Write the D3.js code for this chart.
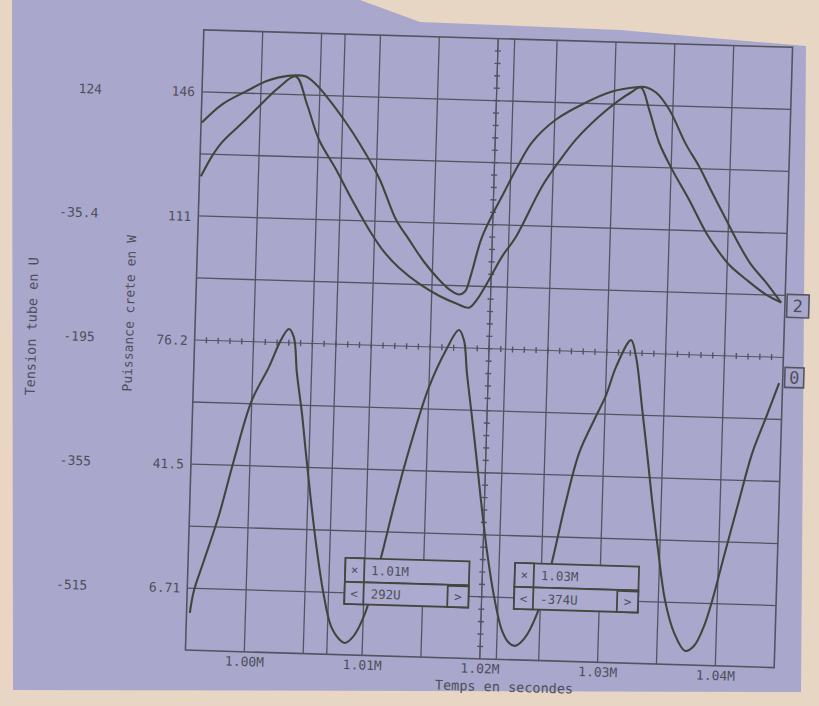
<!DOCTYPE html>
<html><head><meta charset="utf-8">
<script src="https://cdn.jsdelivr.net/npm/d3@7"></script>
<style>html,body{margin:0;padding:0;background:#e8d6c4;} svg{display:block}</style>
</head><body><svg id="c" width="819" height="706"></svg>
<script>
// ---- data ----
const xTickValues = [1.00, 1.01, 1.02, 1.03, 1.04];
const xTickLabels = ["1.00M", "1.01M", "1.02M", "1.03M", "1.04M"];
const powerTicks = [146, 111, 76.2, 41.5, 6.71];
const powerLabels = ["146", "111", "76.2", "41.5", "6.71"];
const tensionTicks = [124, -35.4, -195, -355, -515];
const tensionLabels = ["124", "-35.4", "-195", "-355", "-515"];
const timeDomain = [0.995, 1.045];
const powerDomain = [-10.7, 163.4];
const tensionDomain = [-594.9, 203.9];
const cursorTimes = [1.0070, 1.0214];
const cursorX = ["1.01M", "1.03M"];
const cursorY = ["292U", "-374U"];

// trace 2a (upper, wide)
const tA = [0.99507,0.99672,0.99873,1.00040,1.00149,1.00293,1.00378,1.00465,1.00580,1.00729,1.00845,1.01023,1.01178,1.01294,1.01426,1.01559,1.01663,1.01732,1.01782,1.01829,1.01905,1.01984,1.02088,1.02192,1.02313,1.02511,1.02761,1.0298,1.03183,1.03267,1.03353,1.03468,1.0362,1.03737,1.03854,1.0398,1.04096,1.04203,1.04335,1.04467];
const pA = [137.4,142.6,146.5,149.5,150.7,151.4,151.2,149.1,144.9,138.6,133.1,123.4,111.8,106.3,100.2,95.3,92.3,91.3,92.2,97.0,106.9,113.2,120.3,127.4,134.6,141.2,146.2,149.5,150.9,151.0,149.6,145.0,135.3,129.2,122.0,114.5,107.6,102.1,97.2,91.7];
// trace 2b (upper, narrow)
const tB = [0.99512,0.996,0.99682,0.99879,1.00044,1.00152,1.00293,1.00394,1.00504,1.00656,1.0080,1.00969,1.01084,1.01216,1.0139,1.01562,1.01717,1.0182,1.01885,1.01983,1.02087,1.02201,1.02409,1.02548,1.02686,1.02875,1.0304,1.0314,1.03224,1.03298,1.03391,1.03509,1.0366,1.03813,1.03911,1.04016,1.04165,1.04338,1.04467];
const pB = [122.3,128.0,132.0,138.6,144.4,147.9,151.1,143.4,133.6,125.4,117.0,107.9,102.7,98.3,94.0,90.8,88.7,87.7,90.0,95.7,102.3,108.0,122.3,129.5,135.8,142.4,147.1,149.4,150.9,144.8,135.6,128.1,119.8,110.7,106.1,101.9,97.9,93.8,91.7];
// trace 0 (lower)
const tC = [0.99528,0.99557,0.99634,0.9975,0.99863,1.00001,1.00137,1.00232,1.00297,1.00341,1.00376,1.00429,1.00473,1.00527,1.00591,1.00661,1.00728,1.008,1.00851,1.00918,1.01013,1.0112,1.01233,1.01324,1.015,1.01635,1.0174,1.01785,1.01819,1.01873,1.01916,1.0197,1.02033,1.02104,1.02182,1.02244,1.02295,1.0237,1.02474,1.02581,1.02684,1.0279,1.02909,1.03005,1.03082,1.03203,1.0325,1.03313,1.03368,1.03422,1.03486,1.03558,1.03642,1.0374,1.03815,1.03895,1.03957,1.04047,1.0416,1.04259,1.04368,1.0447];
const vC = [-546.8,-518.3,-479.2,-420.5,-349,-270.8,-227.6,-192.4,-177.8,-188,-234.3,-285.8,-337.2,-397.7,-461.9,-519.7,-558.2,-574.7,-579.6,-571.5,-541.4,-479,-400.9,-342.4,-247.3,-199,-172.6,-185.3,-227.9,-284.4,-330.7,-391.1,-455.5,-513.3,-558,-573.3,-576.9,-567.6,-534.8,-472.4,-394.3,-326.7,-283.6,-250.8,-214.3,-179,-200.6,-265,-324.1,-384.6,-448.9,-513.2,-554,-576.9,-570,-543.9,-511.3,-452.8,-381.3,-320.1,-273.2,-228.8];

// ---- layout / style ----
const BG = "#a9a8cc", PAPER = "#e8d6c4", INK = "#43453d", GRID = "#535461", TXT = "#4f4f5c";
const plot = {left: 194.5, right: 783.5, top: 38.5, bottom: 659};
const svg = d3.select("#c");
svg.append("rect").attr("width", 819).attr("height", 706).attr("fill", PAPER);
svg.append("polygon")
  .attr("points", [[12,0],[360,0],[420,22],[620,30],[806,46],[801,692],[13,690]].map(p => p.join(",")).join(" "))
  .attr("fill", BG);

const g = svg.append("g").attr("transform", "rotate(1.7,490,349)");
const x = d3.scaleLinear().domain(timeDomain).range([plot.left, plot.right]);
const yP = d3.scaleLinear().domain(powerDomain).range([plot.bottom, plot.top]);
const yV = d3.scaleLinear().domain(tensionDomain).range([plot.bottom, plot.top]);
const mono = "'DejaVu Sans Mono', 'Liberation Mono', monospace";

// grid
const xStep = (timeDomain[1] - timeDomain[0]) / 10;
const pStep = (powerDomain[1] - powerDomain[0]) / 10;
const vGrid = d3.range(1, 10).map(i => timeDomain[0] + i * xStep);
const hGrid = d3.range(1, 10).map(i => powerDomain[0] + i * pStep);
g.selectAll(".vg").data(vGrid.concat(cursorTimes)).join("line")
  .attr("x1", d => x(d)).attr("x2", d => x(d)).attr("y1", plot.top).attr("y2", plot.bottom)
  .attr("stroke", GRID).attr("stroke-width", 1.3);
g.selectAll(".hg").data(hGrid.filter((d, i) => i !== 4)).join("line")
  .attr("y1", d => yP(d)).attr("y2", d => yP(d)).attr("x1", plot.left).attr("x2", plot.right)
  .attr("stroke", GRID).attr("stroke-width", 1.3);
// center axes with minor ticks
const midP = powerDomain[0] + 5 * pStep, midT = timeDomain[0] + 5 * xStep;
g.append("line").attr("x1", plot.left).attr("x2", plot.right).attr("y1", yP(midP)).attr("y2", yP(midP))
  .attr("stroke", GRID).attr("stroke-width", 1);
g.selectAll(".mtx").data(d3.range(1, 50).map(i => timeDomain[0] + i * xStep / 5)).join("line")
  .attr("x1", d => x(d)).attr("x2", d => x(d)).attr("y1", yP(midP) - 3).attr("y2", yP(midP) + 3)
  .attr("stroke", GRID).attr("stroke-width", 1.4);
g.append("line").attr("x1", x(midT)).attr("x2", x(midT)).attr("y1", plot.top).attr("y2", plot.bottom)
  .attr("stroke", GRID).attr("stroke-width", 1);
g.selectAll(".mty").data(d3.range(1, 50).map(i => powerDomain[0] + i * pStep / 5)).join("line")
  .attr("y1", d => yP(d)).attr("y2", d => yP(d)).attr("x1", x(midT) - 3).attr("x2", x(midT) + 3)
  .attr("stroke", GRID).attr("stroke-width", 1.4);
g.append("rect").attr("x", plot.left).attr("y", plot.top)
  .attr("width", plot.right - plot.left).attr("height", plot.bottom - plot.top)
  .attr("fill", "none").attr("stroke", GRID).attr("stroke-width", 1.6);

// traces
g.append("clipPath").attr("id", "clip").append("rect")
  .attr("x", plot.left).attr("y", plot.top).attr("width", plot.right - plot.left).attr("height", plot.bottom - plot.top);
const lineP = d3.line().x(d => x(d[0])).y(d => yP(d[1])).curve(d3.curveCatmullRom.alpha(0.5));
const lineV = d3.line().x(d => x(d[0])).y(d => yV(d[1])).curve(d3.curveCatmullRom.alpha(0.5));
const tr = g.append("g").attr("clip-path", "url(#clip)").attr("fill", "none").attr("stroke", INK)
  .attr("stroke-width", 2.1).attr("stroke-linejoin", "round");
tr.append("path").attr("d", lineP(d3.zip(tA, pA)));
tr.append("path").attr("d", lineP(d3.zip(tB, pB)));
tr.append("path").attr("d", lineV(d3.zip(tC, vC)));

// axes labels
function styleAxis(sel) {
  sel.select(".domain").remove();
  sel.selectAll("text").attr("font-family", mono).attr("font-size", 13).attr("fill", TXT);
}
g.append("g").attr("transform", `translate(${plot.left - 100},0)`)
  .call(d3.axisLeft(yV).tickValues(tensionTicks).tickSize(0).tickPadding(0).tickFormat((d, i) => tensionLabels[i]))
  .call(styleAxis);
g.append("g").attr("transform", `translate(${plot.left},0)`)
  .call(d3.axisLeft(yP).tickValues(powerTicks).tickSize(0).tickPadding(7).tickFormat((d, i) => powerLabels[i]))
  .call(styleAxis);
g.append("g").attr("transform", `translate(0,${plot.bottom})`)
  .call(d3.axisBottom(x).tickValues(xTickValues).tickSize(0).tickPadding(5).tickFormat((d, i) => xTickLabels[i]))
  .call(styleAxis);

g.append("text").attr("transform", `translate(36,340) rotate(-90)`).attr("text-anchor", "middle")
  .attr("font-family", mono).attr("font-size", 13.5).attr("fill", TXT).text("Tension tube en U");
g.append("text").attr("transform", `translate(133,324) rotate(-90)`).attr("text-anchor", "middle")
  .attr("font-family", mono).attr("font-size", 13).attr("fill", TXT).text("Puissance crete en W");
g.append("text").attr("x", 514).attr("y", 691).attr("text-anchor", "middle")
  .attr("font-family", mono).attr("font-size", 13.5).attr("fill", TXT).text("Temps en secondes");

// channel markers
const chans = [{lab: "2", y: yP(pA[pA.length - 1]) + 3, w: 22, h: 23}, {lab: "0", y: yV(vC[vC.length - 1]) - 6, w: 19, h: 20}];
chans.forEach(c => {
  g.append("rect").attr("x", plot.right + 2).attr("y", c.y - c.h / 2).attr("width", c.w).attr("height", c.h)
    .attr("fill", BG).attr("stroke", GRID).attr("stroke-width", 1.6);
  g.append("text").attr("x", plot.right + 2 + c.w / 2).attr("y", c.y + 6).attr("text-anchor", "middle")
    .attr("font-family", mono).attr("font-size", 17).attr("fill", TXT).text(c.lab);
});

// cursor readout boxes
cursorTimes.forEach((t, i) => {
  const L = x(t) + 16, T = 562;
  const b = g.append("g").attr("fill", "#acabcf").attr("stroke", "#45463f").attr("stroke-width", 1.8);
  b.append("rect").attr("x", L).attr("y", T).attr("width", 124).attr("height", 24);
  b.append("rect").attr("x", L).attr("y", T + 24).attr("width", 124).attr("height", 22);
  b.append("rect").attr("x", L).attr("y", T).attr("width", 19).attr("height", 24);
  b.append("rect").attr("x", L).attr("y", T + 24).attr("width", 19).attr("height", 22);
  b.append("rect").attr("x", L + 103).attr("y", T + 25).attr("width", 21).attr("height", 21);
  const tt = g.append("g").attr("font-family", mono).attr("font-size", 12.5).attr("fill", TXT);
  tt.append("text").attr("x", L + 9.5).attr("y", T + 16).attr("text-anchor", "middle").text("×");
  tt.append("text").attr("x", L + 9.5).attr("y", T + 40).attr("text-anchor", "middle").text("<");
  tt.append("text").attr("x", L + 113.5).attr("y", T + 40).attr("text-anchor", "middle").text(">");
  tt.append("text").attr("x", L + 26).attr("y", T + 16.5).text(cursorX[i]);
  tt.append("text").attr("x", L + 26).attr("y", T + 40).text(cursorY[i]);
});
</script></body></html>
